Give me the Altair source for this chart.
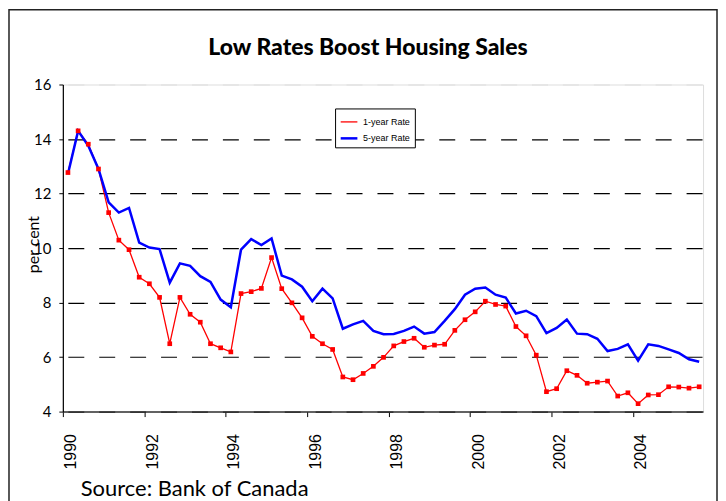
import altair as alt
import pandas as pd

TITLE = "Low Rates Boost Housing Sales"
SOURCE = "Source: Bank of Canada"
Y_TITLE = "per cent"
series_names = ["1-year Rate", "5-year Rate"]
series_colors = ["#ff0000", "#0000ff"]

# quarterly rates, 1990 Q1 .. 2005 Q3
one_year = [12.77, 14.30, 13.81, 12.90, 11.30, 10.29, 9.94, 8.93,
            8.69, 8.19, 6.49, 8.19, 7.57, 7.28, 6.49, 6.34, 6.19, 8.33,
            8.40, 8.52, 9.65, 8.51, 7.99, 7.44, 6.76, 6.49, 6.28, 5.27,
            5.17, 5.40, 5.66, 5.99,
            6.41, 6.57, 6.69, 6.36, 6.44, 6.47, 6.98, 7.37, 7.66, 8.05,
            7.93, 7.87, 7.12, 6.78, 6.07, 4.73, 4.84, 5.50, 5.33, 5.04,
            5.08, 5.12, 4.57, 4.69, 4.29, 4.61, 4.62, 4.91, 4.90, 4.86,
            4.91]
five_year = [12.72, 14.30, 13.75, 12.90, 11.68, 11.30, 11.47, 10.20,
             10.02, 9.96, 8.73, 9.44, 9.35, 8.97, 8.76, 8.11, 7.83, 9.94,
             10.33, 10.11, 10.35, 8.99, 8.85, 8.58, 8.05, 8.51, 8.15, 7.04,
             7.20, 7.33, 6.96, 6.84,
             6.85, 6.96, 7.12, 6.86, 6.92, 7.33, 7.76, 8.29, 8.51, 8.55,
             8.29, 8.18, 7.60, 7.70, 7.50, 6.88, 7.07, 7.38, 6.86, 6.84,
             6.67, 6.22, 6.30, 6.47, 5.87, 6.47, 6.41, 6.28, 6.15, 5.92,
             5.83]
start_year = 1990
quarters = [start_year + 0.125 + 0.25 * i for i in range(len(one_year))]
year_ticks = [1990, 1992, 1994, 1996, 1998, 2000, 2002, 2004]
y_ticks = [4, 6, 8, 10, 12, 14, 16]

df = pd.DataFrame({
    "t": quarters + quarters,
    "rate": one_year + five_year,
    "series": [series_names[0]] * len(one_year) + [series_names[1]] * len(five_year),
})

x = alt.X("t:Q",
          scale=alt.Scale(domain=[1990, 2005.72], nice=False, zero=False),
          axis=alt.Axis(values=year_ticks, format="d", labelAngle=-90,
                        labelFont="Liberation Sans", labelFontSize=16, labelColor="black",
                        labelBaseline="top", labelAlign="right", labelPadding=17,
                        tickSize=5, tickColor="black", domainColor="#333333",
                        domainWidth=1.5, grid=False, title=None))
y = alt.Y("rate:Q",
          scale=alt.Scale(domain=[4, 16], nice=False, zero=False),
          axis=alt.Axis(values=y_ticks, title=Y_TITLE, titleFont="Lato",
                        titleFontSize=16, titleFontWeight="normal", titleColor="black",
                        titleX=-29, titleY=160, titleAngle=-90, titleBaseline="middle",
                        titleAlign="center",
                        labelFont="Lato", labelFontSize=15, labelColor="black",
                        labelPadding=8, tickSize=4, tickColor="black",
                        domainColor="black", domainWidth=1.2,
                        grid=True, gridDash=[16, 15], gridDashOffset=-5,
                        gridColor={"condition": {"test": "datum.value === 16", "value": "#dddddd"},
                                   "value": "black"},
                        gridWidth=1.2))

color = alt.Color("series:N",
                  scale=alt.Scale(domain=series_names, range=series_colors),
                  legend=alt.Legend(title=None, orient="none", legendX=273, legendY=24,
                                    strokeColor="black", fillColor="white", padding=4,
                                    labelFont="Liberation Sans", labelFontSize=9,
                                    labelColor="black",
                                    symbolType="stroke", symbolSize=280,
                                    symbolStrokeWidth=2, rowPadding=1, symbolOffset=0))

lines = alt.Chart(df).mark_line().encode(
    x=x, y=y, color=color,
    strokeWidth=alt.StrokeWidth("series:N",
                                scale=alt.Scale(domain=series_names, range=[1.3, 2.5]),
                                legend=None),
)

points = alt.Chart(df).transform_filter(
    alt.datum.series == series_names[0]
).mark_square(size=22, filled=True, opacity=1, color="#ff0000").encode(x=x, y=y)

one = pd.DataFrame({"a": [0]})

border = alt.Chart(one).mark_rect(
    fillOpacity=0, stroke="#222222", strokeWidth=1.5
).encode(x=alt.value(-54), x2=alt.value(656), y=alt.value(-75), y2=alt.value(440))

title = alt.Chart(one).mark_text(
    align="center", baseline="alphabetic", font="Lato", fontWeight=900,
    fontSize=23, color="black"
).encode(x=alt.value(306), y=alt.value(-29.5), text=alt.value(TITLE))

source = alt.Chart(one).mark_text(
    align="left", baseline="top", font="Lato", fontSize=22, color="black"
).encode(x=alt.value(18), y=alt.value(396), text=alt.value(SOURCE))

chart = alt.layer(border, lines, points, title, source).properties(
    width=642, height=328,
    padding=0,
).configure_view(stroke=None).configure(background="white")

chart.save("out.html", embed_options={"renderer": "svg", "actions": False})
